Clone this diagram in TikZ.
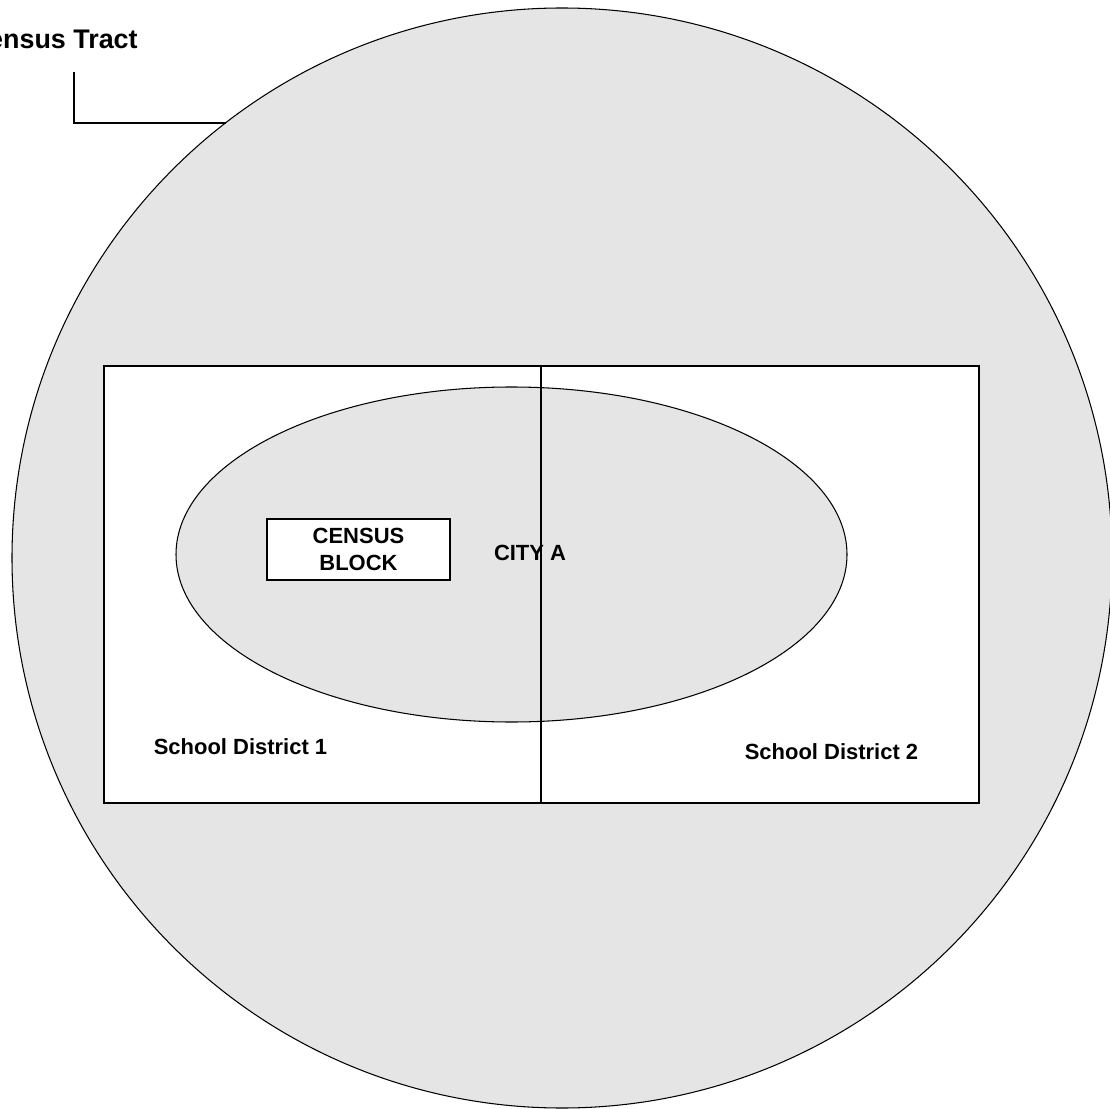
\documentclass[tikz,border=0pt]{standalone}
\usepackage{fontspec}
\setmainfont{Liberation Sans}
\usepackage{xcolor}
\usetikzlibrary{shapes.geometric}
\usetikzlibrary{positioning}

\definecolor{regiongray}{HTML}{E5E5E5}

\tikzset{
    boundary/.style = {draw = black, line width = 0.6pt},
    label/.style = {font = \bfseries\fontsize{12.5}{15.3}\selectfont, inner sep = 0pt},
}

\begin{document}
\begin{tikzpicture}
        \useasboundingbox (0, 0) rectangle (22.2, -22.18);

        % census tract
        \filldraw [boundary, fill = regiongray] (11.24, -11.16) circle (11.0);
        \node [label, font = \bfseries\fontsize{15.3}{18}\selectfont, anchor = base east]
            (tract) at (2.76, -0.98) {Census Tract};
        \coordinate (leadtop) at (1.48, -1.44);
        \coordinate (leadend) at (4.51, -2.46);
        \draw [boundary] (leadtop) |- (leadend);

        % school districts
        \filldraw [boundary, fill = white] (2.08, -7.32) rectangle (19.58, -16.06);

        % city
        \node [boundary, ellipse, fill = regiongray, minimum width = 13.42cm,
            minimum height = 6.7cm, inner sep = 0pt] (city) at (10.23, -11.09) {};

        \coordinate (divtop) at (10.82, -7.32);
        \coordinate (divbot) at (10.82, -16.06);
        \draw [boundary] (divtop) -- (divbot);

        % census block
        \node [label, boundary, fill = white, align = center, minimum width = 3.66cm,
            minimum height = 1.22cm] (block) at (7.17, -10.99) {CENSUS\\BLOCK};

        \node [label] (citya) at (10.6, -11.06) {CITY A};
        \node [label] (district1) at (4.81, -14.94) {School District 1};
        \node [label] (district2) at (16.63, -15.04) {School District 2};
    \end{tikzpicture}
\end{document}
